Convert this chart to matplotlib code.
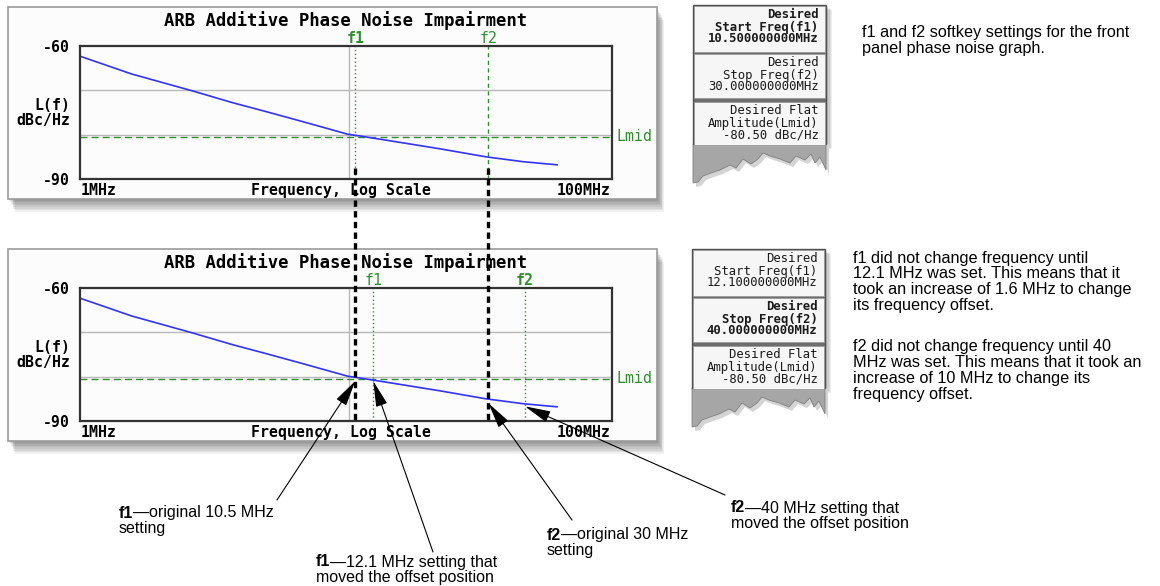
import matplotlib
matplotlib.use("Agg")
import matplotlib.pyplot as plt
from matplotlib.patches import Rectangle, Polygon
from matplotlib.ticker import NullLocator
from matplotlib.transforms import blended_transform_factory

# phase noise curve (MHz, dBc/Hz)
freq_mhz = [1.2, 1.8, 2.9, 4.0, 5.2, 6.8, 9.9, 10.9, 15.8, 20.5, 29.4, 39.4, 51.5]
noise_dbc = [-62.3, -66.3, -70.1, -72.8, -74.8, -76.9, -79.9, -80.3, -82.0, -83.2, -85.0, -86.1, -86.8]

l_mid = -80.5
f1_old, f2_old = 10.5, 30.0
f1_new, f2_new = 12.1, 40.0
y_ticks = [-60, -90]
grid_levels = [-70, -80]
decade_grid = [10]

softkeys_top = [["Desired", "Start Freq(f1)", "10.500000000MHz"],
                ["Desired", "Stop Freq(f2)", "30.000000000MHz"],
                ["Desired Flat", "Amplitude(Lmid)", "-80.50 dBc/Hz"]]
softkeys_bot = [["Desired", "Start Freq(f1)", "12.100000000MHz"],
                ["Desired", "Stop Freq(f2)", "40.000000000MHz"],
                ["Desired Flat", "Amplitude(Lmid)", "-80.50 dBc/Hz"]]

note_top = ["f1 and f2 softkey settings for the front", "panel phase noise graph."]
note_f1 = ["f1 did not change frequency until", "12.1 MHz was set. This means that it",
           "took an increase of 1.6 MHz to change", "its frequency offset."]
note_f2 = ["f2 did not change frequency until 40", "MHz was set. This means that it took an",
           "increase of 10 MHz to change its", "frequency offset."]

# callouts: bold tag, rest of first line, second line, text pos, arrow tail, arrow tip
callouts = [("f1", "\u2014original 10.5 MHz", "setting", (119, 513), (277, 500), (f1_old, -81.0)),
            ("f1", "\u201412.1 MHz setting that", "moved the offset position", (316, 562), (433, 552), (f1_new, -81.0)),
            ("f2", "\u2014original 30 MHz", "setting", (547, 535), (572, 520), (f2_old, -86.0)),
            ("f2", "\u201440 MHz setting that", "moved the offset position", (731, 508), (725, 495), (f2_new, -86.7))]

green = "#2f8f2f"
mono = "DejaVu Sans Mono"
sans = ["Liberation Sans", "DejaVu Sans"]

fig = plt.figure(figsize=(11.6, 5.86), dpi=100)
bg = fig.add_axes([0, 0, 1, 1], zorder=0)
bg.set_xlim(0, 1160)
bg.set_ylim(586, 0)
bg.axis("off")
fg = fig.add_axes([0, 0, 1, 1], zorder=10)
fg.set_xlim(0, 1160)
fg.set_ylim(586, 0)
fg.axis("off")


def phase_panel(y0, f1, f2, f1_bold, f2_style):
    # screen frame with soft shadow
    for k in range(8, 0, -1):
        bg.add_patch(Rectangle((8 + k * 0.9, y0 + 7 + k * 1.6), 649, 192,
                               facecolor="black", alpha=0.06, lw=0))
    bg.add_patch(Rectangle((8, y0 + 7), 649, 192, facecolor="#fcfcfc",
                           edgecolor="#9a9a9a", lw=1.2))

    ax = fig.add_axes([80 / 1160, (586 - 179 - y0) / 586, 532 / 1160, 133 / 586], zorder=1)
    ax.set_xscale("log")
    ax.set_xlim(1.2, 79.4)
    ax.set_ylim(-90, -60)
    ax.set_facecolor("#fcfcfc")
    for s in ax.spines.values():
        s.set_color("#333333")
        s.set_linewidth(1.6)
    for lvl in grid_levels:
        ax.axhline(lvl, color="#b9b9b9", lw=1.0)
    for f in decade_grid:
        ax.axvline(f, color="#b9b9b9", lw=1.0)
    ax.axhline(l_mid, color=green, lw=1.0, ls=(0, (5, 3)))
    ax.axvline(f1, color=green, lw=1.0, ls=(0, (1, 1.8)))
    ax.axvline(f2, color=green, lw=1.0, ls=f2_style)
    ax.plot(freq_mhz, noise_dbc, color="#3333ff", lw=1.2)

    ax.set_xticks([])
    ax.xaxis.set_minor_locator(NullLocator())
    ax.set_yticks(y_ticks)
    ax.set_yticklabels([str(v) for v in y_ticks], family=mono, fontsize=10.7, weight="bold")
    ax.tick_params(axis="y", length=0, pad=7)

    tb = dict(family=mono, fontsize=10.7, weight="bold", va="center")
    ax.text(-0.019, 0.5, "L(f)\ndBc/Hz", transform=ax.transAxes, ha="right",
            multialignment="right", linespacing=1.0, **tb)
    ax.text(0.002, -0.09, "1MHz", transform=ax.transAxes, ha="left", **tb)
    ax.text(0.49, -0.09, "Frequency, Log Scale", transform=ax.transAxes, ha="center", **tb)
    ax.text(0.997, -0.09, "100MHz", transform=ax.transAxes, ha="right", **tb)
    ax.text(0.5, 1.195, "ARB Additive Phase Noise Impairment", transform=ax.transAxes,
            ha="center", va="center", family=mono, fontsize=12.4, weight="bold")

    top = blended_transform_factory(ax.transData, ax.transAxes)
    ax.text(f1, 1.06, "f1", transform=top, ha="center", va="center", color=green,
            family=mono, fontsize=10.7, weight="bold" if f1_bold else "normal")
    ax.text(f2, 1.06, "f2", transform=top, ha="center", va="center", color=green,
            family=mono, fontsize=10.7, weight="normal" if f1_bold else "bold")
    side = blended_transform_factory(ax.transAxes, ax.transData)
    ax.text(1.008, l_mid, "Lmid", transform=side, ha="left", va="center", color=green,
            family=mono, fontsize=10.7)
    return ax


def softkey_panel(x0, y0, labels, bold_idx):
    w = 133
    jag = [(133, 165), (127, 152), (122, 158), (118, 149), (112, 155), (103, 151), (97, 158),
           (87, 154), (77, 151), (70, 148), (65, 154), (58, 159), (50, 154), (43, 163),
           (37, 160), (27, 165), (18, 168), (10, 171), (5, 177), (0, 178)]
    # shadow of the panel
    for k in range(5, 0, -1):
        bg.add_patch(Rectangle((x0 + k * 1.2, y0 + k), w, 139, facecolor="black", alpha=0.07, lw=0))
    bg.add_patch(Polygon([(x0 + px + 3, y0 + py + 4) for px, py in jag] + [(x0 + 3, y0 + 139), (x0 + w + 3, y0 + 139)],
                         closed=True, facecolor="#d4d4d4", lw=0))
    bg.add_patch(Polygon([(x0 + w, y0 + 139)] + [(x0 + px, y0 + py) for px, py in jag] + [(x0, y0 + 139)],
                         closed=True, facecolor="#a6a6a6", edgecolor="#808080", lw=0.6))
    bg.add_patch(Rectangle((x0, y0), w, 139, facecolor="#6e6e6e", edgecolor="#505050", lw=1))
    key_tops = [0, 48, 96]
    key_hs = [46, 44, 43]
    for i, (kt, kh) in enumerate(zip(key_tops, key_hs)):
        bg.add_patch(Rectangle((x0 + 1, y0 + kt + 0.5), w - 2, kh, facecolor="#f6f6f6",
                               edgecolor="#9a9a9a", lw=0.6))
        for j, line in enumerate(labels[i]):
            bg.text(x0 + 125.5, y0 + kt + 10 + 12 * j, line, ha="right", va="center",
                    family=mono, fontsize=8.8, color="#1a1a1a",
                    weight="bold" if i == bold_idx else "normal")


ax_top = phase_panel(0, f1_old, f2_old, True, (0, (3, 2.5)))
ax_bot = phase_panel(242, f1_new, f2_new, False, (0, (1, 1.8)))

softkey_panel(693, 5, softkeys_top, 0)
softkey_panel(692, 249, softkeys_bot, 1)

body = dict(family=sans, fontsize=11.7, color="black", va="center")
for i, line in enumerate(note_top):
    bg.text(862, 33 + 16 * i, line, **body)
for i, line in enumerate(note_f1):
    bg.text(853, 258 + 15.7 * i, line, **body)
for i, line in enumerate(note_f2):
    bg.text(853, 347 + 15.7 * i, line, **body)

# thick black guides carrying the original f1/f2 positions down to the lower graph
for f in (f1_old, f2_old):
    x = ax_top.transData.transform((f, -60))[0]
    fg.plot([x, x], [168, 421], color="black", lw=2.4, ls=(0, (1.9, 1.3)), solid_capstyle="butt")

call = dict(family=sans, fontsize=11.5, color="black")
for tag, rest, second, (tx, ty), tail, tip in callouts:
    t = bg.text(tx, ty + 4.5, tag, weight="bold", va="baseline", **call)
    bg.annotate(rest, xy=(1, 0), xycoords=t, va="bottom", ha="left", **call)
    bg.text(tx, ty + 15.5, second, va="center", **call)
    ax_bot.annotate("", xy=tip, xycoords="data", xytext=tail, textcoords=fg.transData,
                    arrowprops=dict(arrowstyle="-|>,head_length=0.8,head_width=0.18",
                                    color="black", lw=0.8, mutation_scale=20,
                                    shrinkA=0, shrinkB=0))

fig.savefig("out.png", dpi=100, facecolor="white")
